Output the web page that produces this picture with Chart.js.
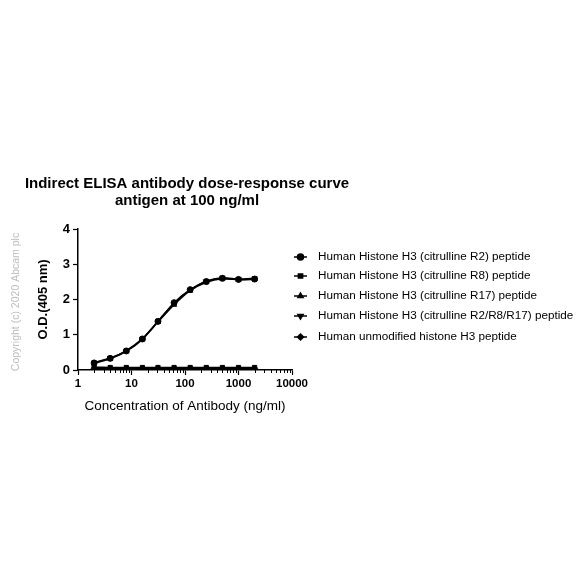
<!DOCTYPE html>
<html>
<head>
<meta charset="utf-8">
<script src="https://cdn.jsdelivr.net/npm/chart.js@4/dist/chart.umd.min.js"></script>
<style>
  html, body { margin: 0; padding: 0; background: #fff; }
  #wrap { position: relative; width: 584px; height: 584px; }
</style>
</head>
<body>
<div id="wrap"><canvas id="elisaChart" width="584" height="584"></canvas></div>
<script>
// ── 데이터 ──────────────────────────────────────────────
var concentrations = [2, 4, 8, 16, 31.25, 62.5, 125, 250, 500, 1000, 2000];

var seriesNames = [
  "Human Histone H3 (citrulline R2) peptide",
  "Human Histone H3 (citrulline R8) peptide",
  "Human Histone H3 (citrulline R17) peptide",
  "Human Histone H3 (citrulline R2/R8/R17) peptide",
  "Human unmodified histone H3 peptide"
];

var odR2      = [0.20, 0.33, 0.54, 0.88, 1.38, 1.91, 2.28, 2.51, 2.60, 2.57, 2.58];
var odR8      = [0.08, 0.07, 0.07, 0.07, 0.07, 0.07, 0.07, 0.07, 0.07, 0.07, 0.07];
var odR17     = [0.19, 0.32, 0.53, 0.87, 1.36, 1.85, 2.25, 2.49, 2.59, 2.56, 2.57];
var odR2R8R17 = [0.21, 0.34, 0.55, 0.89, 1.38, 1.90, 2.27, 2.52, 2.62, 2.58, 2.60];
var odUnmod   = [0.05, 0.05, 0.05, 0.05, 0.05, 0.05, 0.05, 0.05, 0.05, 0.05, 0.05];

var xMajorTicks = [1, 10, 100, 1000, 10000];
var yTicks = [0, 1, 2, 3, 4];

var titleLines = ["Indirect ELISA antibody dose-response curve", "antigen at 100 ng/ml"];
var copyrightText = "Copyright (c) 2020 Abcam plc";

// ── 도우미 ──────────────────────────────────────────────
var FONT = "'Liberation Sans', Arial, sans-serif";
var markerStyles = ["circle", "rect", "triangle", "triangle", "rectRot"];
var markerRot    = [0, 0, 0, 180, 0];
var allSeries    = [odR2, odR8, odR17, odR2R8R17, odUnmod];

function toPoints(arr) {
  return concentrations.map(function(c, i) { return { x: c, y: arr[i] }; });
}

var datasets = allSeries.map(function(arr, i) {
  return {
    label: seriesNames[i],
    data: toPoints(arr),
    borderColor: "#000", backgroundColor: "#000",
    borderWidth: 1.5,
    pointStyle: markerStyles[i], rotation: markerRot[i],
    pointRadius: 3, pointBorderWidth: 1,
    tension: 0.2, fill: false
  };
});

// 제목, 범례, 저작권, 보조 눈금
var decorPlugin = {
  id: "decor",
  afterDraw: function(chart) {
    var ctx = chart.ctx;
    var xs = chart.scales.x;
    ctx.save();

    // 제목
    ctx.fillStyle = "#000";
    ctx.textAlign = "center";
    ctx.textBaseline = "middle";
    ctx.font = "bold 15px " + FONT;
    ctx.fillText(titleLines[0], 187, 184);
    ctx.fillText(titleLines[1], 187, 201);

    // 저작권
    ctx.save();
    ctx.translate(16, 302);
    ctx.rotate(-Math.PI / 2);
    ctx.fillStyle = "#bdbdbd";
    ctx.font = "10.5px " + FONT;
    ctx.fillText(copyrightText, 0, 0);
    ctx.restore();

    // x 보조 눈금
    ctx.strokeStyle = "#000";
    ctx.lineWidth = 1;
    var yb = chart.chartArea.bottom;
    for (var d = 1; d < 10000; d *= 10) {
      for (var k = 2; k <= 9; k++) {
        var px = Math.round(xs.getPixelForValue(d * k)) + 0.5;
        ctx.beginPath();
        ctx.moveTo(px, yb);
        ctx.lineTo(px, yb + 3);
        ctx.stroke();
      }
    }

    // 범례
    var rowY = [257, 276, 296, 316, 337];
    ctx.textAlign = "left";
    ctx.font = "11.7px " + FONT;
    seriesNames.forEach(function(name, i) {
      var y = rowY[i];
      ctx.strokeStyle = "#000";
      ctx.lineWidth = 1.5;
      ctx.beginPath();
      ctx.moveTo(294, y);
      ctx.lineTo(307, y);
      ctx.stroke();
      ctx.fillStyle = "#000";
      Chart.helpers.drawPoint(ctx, {
        pointStyle: markerStyles[i], rotation: markerRot[i],
        radius: 3, borderWidth: 1
      }, 300.5, y);
      ctx.fillStyle = "#000";
      ctx.fillText(name, 318, y);
    });

    ctx.restore();
  }
};

new Chart(document.getElementById("elisaChart").getContext("2d"), {
  type: "line",
  data: { datasets: datasets },
  options: {
    responsive: false, animation: false,
    layout: { padding: { left: 36, right: 292, top: 229, bottom: 170 } },
    plugins: { legend: { display: false }, title: { display: false }, tooltip: { enabled: false } },
    scales: {
      x: {
        type: "logarithmic", min: 1, max: 10000,
        afterBuildTicks: function(scale) {
          scale.ticks = xMajorTicks.map(function(v) { return { value: v }; });
        },
        afterFit: function(scale) { scale.height = 44; },
        ticks: {
          autoSkip: false, maxRotation: 0, padding: 2,
          color: "#000", font: { family: FONT, size: 11.5, weight: "bold" },
          callback: function(v) { return String(v); }
        },
        grid: { display: true, drawOnChartArea: false, tickLength: 5, color: "#000", tickColor: "#000", tickWidth: 1.2 },
        border: { display: true, color: "#000", width: 1.5 },
        title: { display: true, text: "Concentration of Antibody (ng/ml)", color: "#000",
                 font: { family: FONT, size: 13.5 }, padding: { top: 4, bottom: 0 } }
      },
      y: {
        min: 0, max: 4,
        afterBuildTicks: function(scale) {
          scale.ticks = yTicks.map(function(v) { return { value: v }; });
        },
        afterFit: function(scale) { scale.width = 42; },
        ticks: {
          padding: 3, color: "#000", font: { family: FONT, size: 13, weight: "bold" }
        },
        grid: { display: true, drawOnChartArea: false, tickLength: 5, color: "#000", tickColor: "#000", tickWidth: 1.2 },
        border: { display: true, color: "#000", width: 1.5 },
        title: { display: true, text: "O.D.(405 nm)", color: "#000",
                 font: { family: FONT, size: 13, weight: "bold" }, padding: { top: 0, bottom: 0 } }
      }
    }
  },
  plugins: [decorPlugin]
});
</script>
</body>
</html>
